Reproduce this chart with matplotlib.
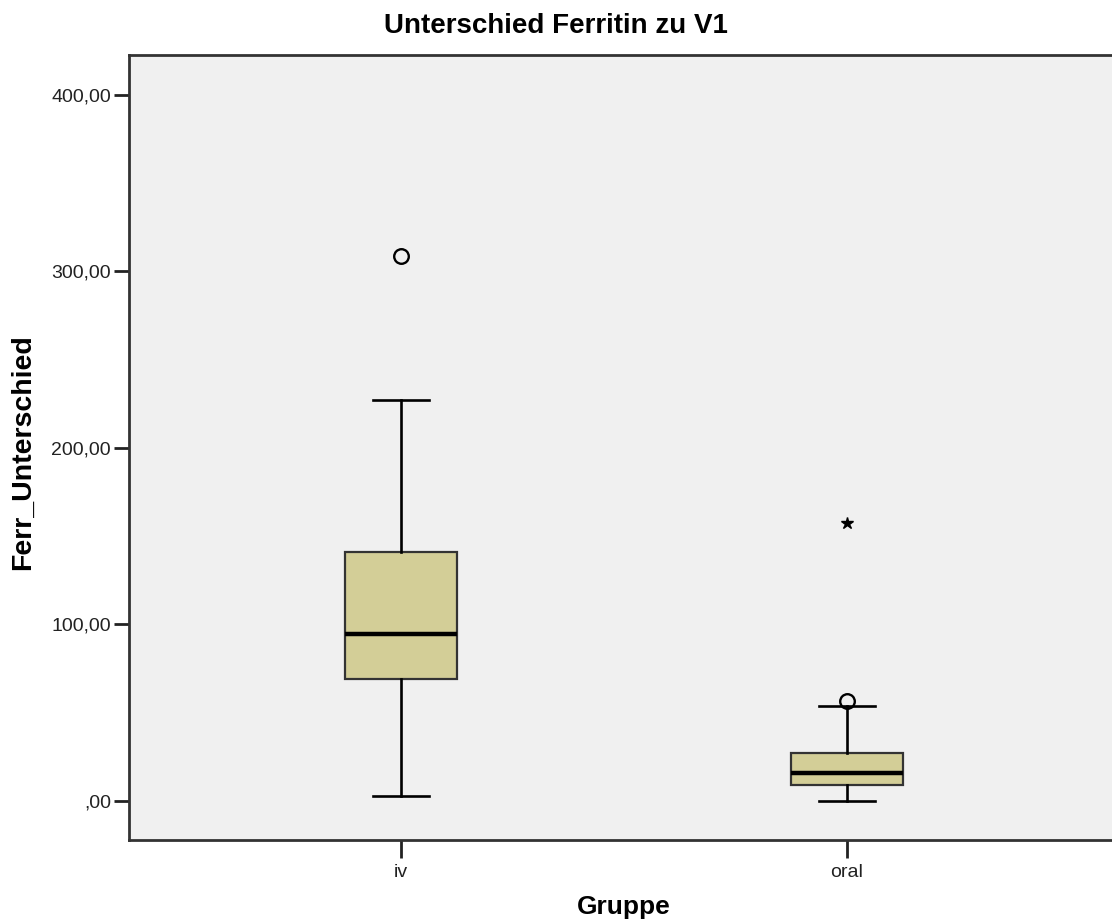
import matplotlib
matplotlib.use("Agg")
import matplotlib.pyplot as plt
from matplotlib.ticker import FuncFormatter

plt.rcParams['font.family'] = ['Liberation Sans', 'DejaVu Sans']

# Gruppen und Kennwerte der Boxplots (Ferritin-Differenz zu V1)
gruppen = ["iv", "oral"]
q1 = [69.0, 8.7]
median = [94.3, 15.9]
q3 = [140.7, 26.9]
whisker_low = [2.8, 0.0]
whisker_high = [227.0, 53.8]
ausreisser = [[308.8], [56.5]]     # Kreis
extremwerte = [[], [157.5]]        # Stern
y_ticks = [0, 100, 200, 300, 400]

BOX_COLOR = "#D3CE97"
BG_COLOR = "#F0F0F0"

stats = []
for i, g in enumerate(gruppen):
    stats.append({
        "label": g,
        "q1": q1[i], "med": median[i], "q3": q3[i],
        "whislo": whisker_low[i], "whishi": whisker_high[i],
        "fliers": ausreisser[i],
    })

fig = plt.figure(figsize=(11.12, 9.21), dpi=100)
ax = fig.add_axes([129 / 1112, 81 / 921, 990 / 1112, 785 / 921])
ax.set_facecolor(BG_COLOR)

positions = list(range(1, len(gruppen) + 1))
ax.bxp(
    stats, positions=positions, widths=0.25, capwidths=0.125,
    patch_artist=True, showfliers=True,
    boxprops=dict(facecolor=BOX_COLOR, edgecolor="#333333", linewidth=1.6),
    medianprops=dict(color="black", linewidth=3.2),
    whiskerprops=dict(color="black", linewidth=1.9),
    capprops=dict(color="black", linewidth=1.9),
    flierprops=dict(marker="o", markersize=10.5, markerfacecolor="none",
                    markeredgecolor="black", markeredgewidth=1.7),
)

# Extremwerte als Sterne
for pos, werte in zip(positions, extremwerte):
    if werte:
        ax.plot([pos] * len(werte), werte, linestyle="none", marker="*",
                markersize=9, color="black")

ax.set_xlim(0.39, 2.61)
ax.set_ylim(-22.3, 422.5)
ax.set_yticks(y_ticks)


def komma_format(v, pos):
    s = f"{v:.2f}".replace(".", ",")
    if s.startswith("0,"):
        s = s[1:]
    return s


ax.yaxis.set_major_formatter(FuncFormatter(komma_format))
ax.set_xticks(positions)
ax.set_xticklabels(gruppen)
ax.tick_params(axis="y", length=11, width=2, labelsize=14, pad=2, colors="#222222")
ax.tick_params(axis="x", length=13, width=2, labelsize=14, pad=4, colors="#222222")

for sp in ax.spines.values():
    sp.set_color("#333333")
    sp.set_linewidth(2)

fig.text(556 / 1112, 1 - 33 / 921, "Unterschied Ferritin zu V1", ha="center",
         va="baseline", fontsize=20, fontweight="bold")
fig.text(23 / 1112, 1 - 452 / 921, "Ferr_Unterschied", ha="center",
         va="center", rotation=90, fontsize=20.5, fontweight="bold")
fig.text(624 / 1112, 1 - 914 / 921, "Gruppe", ha="center", va="baseline",
         fontsize=19, fontweight="bold")

fig.savefig("out.png", dpi=100)
